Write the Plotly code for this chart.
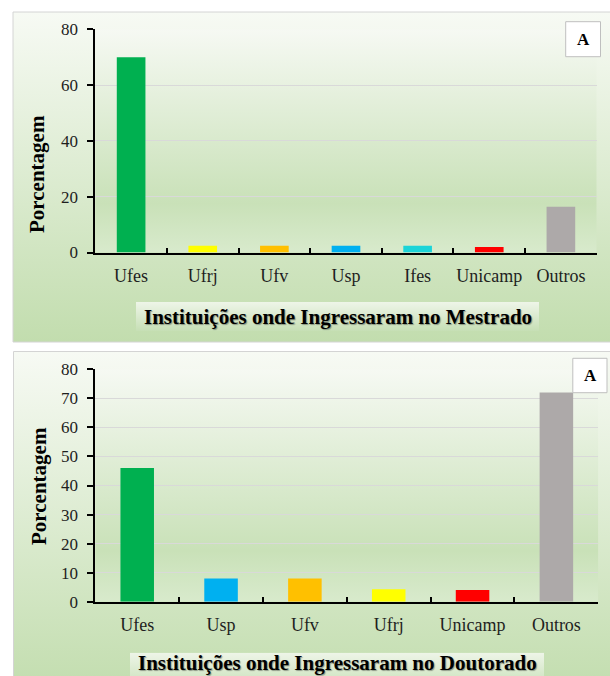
import base64
import plotly.graph_objects as go

# ---------------- data ----------------
cats_mestrado = ["Ufes", "Ufrj", "Ufv", "Usp", "Ifes", "Unicamp", "Outros"]
vals_mestrado = [70.0, 2.4, 2.4, 2.4, 2.4, 2.0, 16.4]
cols_mestrado = ["#00B050", "#FFFF00", "#FFC000", "#00B0F0", "#1CD4D8", "#FF0000", "#ADA9A9"]

cats_doutorado = ["Ufes", "Usp", "Ufv", "Ufrj", "Unicamp", "Outros"]
vals_doutorado = [46.0, 8.0, 8.0, 4.3, 4.0, 72.0]
cols_doutorado = ["#00B050", "#00B0F0", "#FFC000", "#FFFF00", "#FF0000", "#ADA9A9"]

title_mestrado = "Instituições onde Ingressaram no Mestrado"
title_doutorado = "Instituições onde Ingressaram no Doutorado"
ytitle = "Porcentagem"
panel_tag = "A"

W, H = 610, 676
SERIF = "Liberation Serif, Times New Roman, serif"
TXT = "#1E1E1E"


def px(x):
    return x / W


def py(y):
    return 1 - y / H


def grad_uri(stops):
    st = "".join(f'<stop offset="{o}" stop-color="{c}"/>' for o, c in stops)
    svg = ('<svg xmlns="http://www.w3.org/2000/svg" width="100" height="100" '
           'viewBox="0 0 1 1" preserveAspectRatio="none">'
           f'<defs><linearGradient id="g" x1="0" y1="0" x2="0" y2="1">{st}</linearGradient></defs>'
           '<rect x="0" y="0" width="1" height="1" fill="url(#g)"/></svg>')
    return "data:image/svg+xml;base64," + base64.b64encode(svg.encode()).decode()


panel_grad = grad_uri([(0, "#F7FAF4"), (1, "#C2DDAE")])
plot_grad = grad_uri([(0, "#F6F9F3"), (0.78, "#C9E1B8"), (1, "#D8EACC")])
box_grad = grad_uri([(0, "#EEF5E8"), (1, "#C6DFB5")])


def img(src, x0, y0, x1, y1):
    return dict(source=src, xref="paper", yref="paper", x=px(x0), y=py(y0),
                sizex=px(x1) - px(x0), sizey=py(y0) - py(y1),
                xanchor="left", yanchor="top", sizing="stretch", layer="below")


fig = go.Figure()
fig.add_trace(go.Bar(x=cats_mestrado, y=vals_mestrado, marker=dict(color=cols_mestrado, line=dict(width=0)),
                     xaxis="x", yaxis="y", showlegend=False, hoverinfo="x+y"))
fig.add_trace(go.Bar(x=cats_doutorado, y=vals_doutorado, marker=dict(color=cols_doutorado, line=dict(width=0)),
                     xaxis="x2", yaxis="y2", showlegend=False, hoverinfo="x+y"))

# plot-area pixel geometry
P1 = dict(x0=95.3, x1=596.7, y0=29.3, y1=252.5)
P2 = dict(x0=95.3, x1=598.3, y0=369.3, y1=601.7)

xcommon = dict(type="category", showline=True, linecolor="black", linewidth=2,
               ticks="inside", tickson="boundaries", ticklen=5, tickwidth=1.5, tickcolor="black",
               showgrid=False, zeroline=False, ticklabelstandoff=6, tickangle=0, automargin=False,
               tickfont=dict(family=SERIF, size=18, color=TXT))
ycommon = dict(range=[0, 80], showline=True, linecolor="black", linewidth=2,
               ticks="outside", ticklen=6, tickwidth=1.5, tickcolor="black",
               showgrid=True, gridcolor="#D9D9D9", gridwidth=1, zeroline=False, automargin=False,
               ticklabelstandoff=6, tickfont=dict(family=SERIF, size=17, color=TXT))

fig.update_layout(
    width=W, height=H, autosize=False,
    margin=dict(l=0, r=0, t=0, b=0, pad=0, autoexpand=False),
    paper_bgcolor="white", plot_bgcolor="rgba(0,0,0,0)",
    bargap=0.6,
    xaxis=dict(domain=[px(P1["x0"]), px(P1["x1"])], anchor="y", **xcommon),
    yaxis=dict(domain=[py(P1["y1"]), py(P1["y0"])], anchor="x", dtick=20, **ycommon),
    xaxis2=dict(domain=[px(P2["x0"]), px(P2["x1"])], anchor="y2", **xcommon),
    yaxis2=dict(domain=[py(P2["y1"]), py(P2["y0"])], anchor="x2", dtick=10, **ycommon),
    images=[
        img(panel_grad, 13, 12, 612, 342),
        img(plot_grad, P1["x0"], P1["y0"], P1["x1"], P1["y1"]),
        img(box_grad, 136, 302, 539, 331),
        img(panel_grad, 13.5, 351.5, 612, 692),
        img(plot_grad, P2["x0"], P2["y0"], P2["x1"], P2["y1"]),
        img(box_grad, 130, 652.7, 544, 690),
    ],
)

shapes = []
for (x0, y0, x1, y1) in [(13, 12, 612, 342), (13.5, 351.5, 612, 692)]:
    shapes.append(dict(type="rect", xref="paper", yref="paper", x0=px(x0), x1=px(x1), y0=py(y1), y1=py(y0),
                       line=dict(color="#D4D4D4", width=1), fillcolor="rgba(0,0,0,0)", layer="below"))
for (x0, y0, x1, y1) in [(565.7, 21.7, 600.5, 56.7), (572.8, 358.3, 607, 392.7)]:
    shapes.append(dict(type="rect", xref="paper", yref="paper", x0=px(x0), x1=px(x1), y0=py(y1), y1=py(y0),
                       line=dict(color="#BFBFBF", width=1), fillcolor="white", layer="above"))
fig.update_layout(shapes=shapes)

ann = []
for (cx, cy) in [(583, 39.5), (590, 376)]:
    ann.append(dict(text=f"<b>{panel_tag}</b>", xref="paper", yref="paper", x=px(cx), y=py(cy),
                    xanchor="center", yanchor="middle", showarrow=False,
                    font=dict(family=SERIF, size=17, color="black")))
for (cx, cy) in [(37, 174), (39, 486)]:
    ann.append(dict(text=f"<b>{ytitle}</b>", xref="paper", yref="paper", x=px(cx), y=py(cy),
                    xanchor="center", yanchor="middle", showarrow=False, textangle=-90,
                    font=dict(family=SERIF, size=21, color="black")))
for (t, cx, cy) in [(title_mestrado, 337.5, 316.5), (title_doutorado, 337, 663.0)]:
    ann.append(dict(text=f"<b>{t}</b>", xref="paper", yref="paper", x=px(cx), y=py(cy),
                    xanchor="center", yanchor="middle", showarrow=False,
                    font=dict(family=SERIF, size=21, color="black", shadow="1px 1px 1px rgba(0,0,0,0.35)")))
fig.update_layout(annotations=ann)

fig.write_html("out.html")
